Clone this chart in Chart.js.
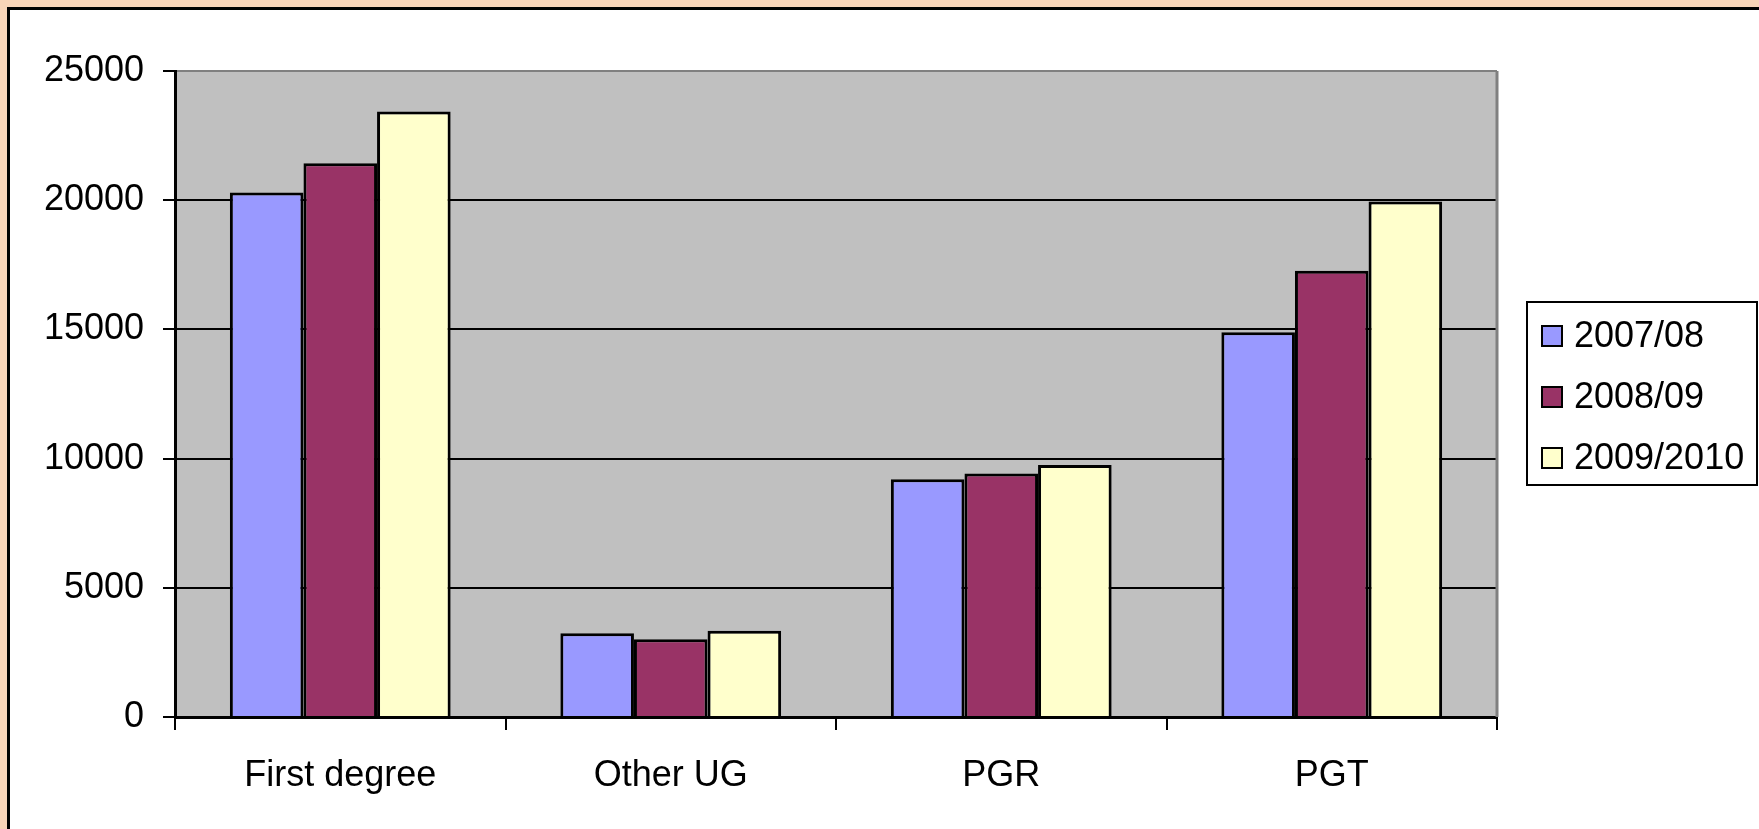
<!DOCTYPE html>
<html>
<head>
<meta charset="utf-8">
<script src="https://cdn.jsdelivr.net/npm/chart.js@4.4.0/dist/chart.umd.min.js"></script>
<style>
    body { margin: 0; background: #F8D4B8; width: 1759px; height: 829px; overflow: hidden; position: relative; }
    .frame { position: absolute; left: 7px; top: 7px; width: 1800px; height: 900px; background: #FFFFFF; border: 3px solid #000000; }
    #chart { position: absolute; left: 0; top: 0; }
</style>
</head>
<body>
<div class="frame"></div>
<canvas id="chart" width="1759" height="829"></canvas>
<script>
// data
const categories = ['First degree', 'Other UG', 'PGR', 'PGT'];
const seriesNames = ['2007/08', '2008/09', '2009/2010'];
const year0708 = [20300, 3240, 9200, 14890];
const year0809 = [21430, 3010, 9420, 17270];
const year0910 = [23430, 3340, 9750, 19950];
const yTicks = [0, 5000, 10000, 15000, 20000, 25000];

const colors = ['#9999FF', '#993366', '#FFFFCC'];
const font = { family: 'Liberation Sans, Arial, sans-serif', size: 36 };

// gray plot area + right border
const plotBackground = {
    id: 'plotBackground',
    beforeDraw: (chart) => {
        const a = chart.chartArea;
        const c = chart.ctx;
        c.save();
        c.fillStyle = '#C0C0C0';
        c.fillRect(a.left, a.top, a.right - a.left, a.bottom - a.top);
        c.restore();
    },
    afterDatasetsDraw: (chart) => {
        const a = chart.chartArea;
        const c = chart.ctx;
        c.save();
        c.strokeStyle = '#808080';
        c.lineWidth = 3;
        c.beginPath();
        c.moveTo(a.right, a.top);
        c.lineTo(a.right, a.bottom);
        c.stroke();
        c.restore();
    }
};

// boxed legend to the right of the plot
const boxLegend = {
    id: 'boxLegend',
    afterDraw: (chart) => {
        const c = chart.ctx;
        const left = chart.chartArea.right + 30;
        const top = 302;
        c.save();
        c.strokeStyle = '#000000';
        c.lineWidth = 2;
        c.strokeRect(left, top, 230, 183);
        c.font = font.size + 'px ' + font.family;
        c.textBaseline = 'middle';
        chart.data.datasets.forEach((ds, i) => {
            const y = top + 34 + i * 61;
            c.fillStyle = ds.backgroundColor;
            c.fillRect(left + 15, y - 10, 20, 20);
            c.lineWidth = 2;
            c.strokeRect(left + 15, y - 10, 20, 20);
            c.fillStyle = '#000000';
            c.fillText(ds.label, left + 47, y + 1);
        });
        c.restore();
    }
};

const values = [year0708, year0809, year0910];

const chart = new Chart(document.querySelector('#chart'), {
    type: 'bar',
    data: {
        labels: categories,
        datasets: seriesNames.map((name, i) => ({
            label: name,
            data: values[i],
            backgroundColor: colors[i],
            borderColor: '#000000',
            borderWidth: 3,
            barPercentage: 1,
            categoryPercentage: 0.668
        }))
    },
    options: {
        responsive: false,
        animation: false,
        layout: { padding: { left: 0, top: 71, right: 262, bottom: 0 } },
        plugins: {
            legend: { display: false },
            tooltip: { enabled: false }
        },
        scales: {
            x: {
                afterFit: (scale) => { scale.height = 112; },
                grid: { drawOnChartArea: false, offset: true, tickLength: 13, tickColor: '#000000', lineWidth: 2 },
                border: { color: '#000000', width: 3 },
                ticks: { color: '#000000', font: font, padding: 24, maxRotation: 0 }
            },
            y: {
                min: 0,
                max: 25000,
                afterFit: (scale) => { scale.width = 175; },
                afterBuildTicks: (scale) => { scale.ticks = yTicks.map(v => ({ value: v })); },
                grid: {
                    color: (ctx) => ctx.tick && ctx.tick.value === 25000 ? '#808080' : '#000000',
                    tickColor: '#000000',
                    tickLength: 12,
                    lineWidth: 2
                },
                border: { color: '#000000', width: 3 },
                ticks: { color: '#000000', font: font, padding: 19, callback: (v) => String(v) }
            }
        }
    },
    plugins: [plotBackground, boxLegend]
});
</script>
</body>
</html>
